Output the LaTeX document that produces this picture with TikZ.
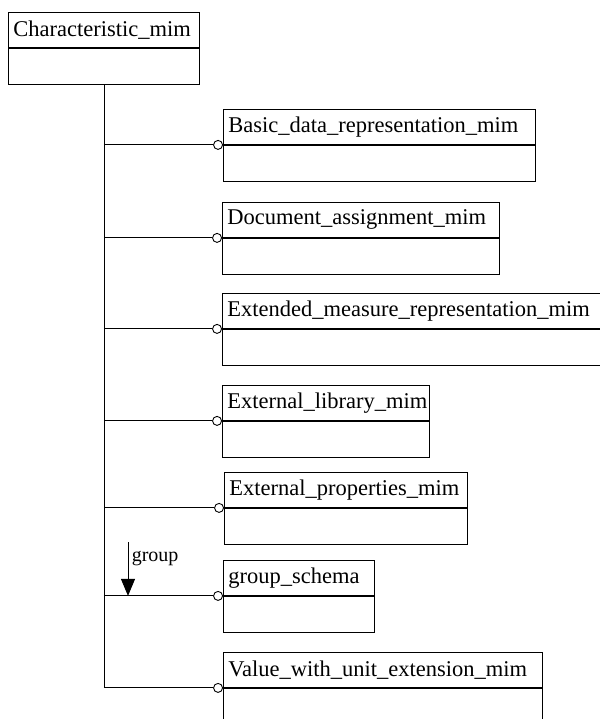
\documentclass[tikz,border=0pt]{standalone}
\usepackage{fontspec}
\setmainfont{Liberation Serif}
\usetikzlibrary{arrows.meta}
\tikzset{
  entity/.style  = {shape=rectangle, draw, anchor=north west,
                    inner xsep=5pt, inner ysep=0pt, minimum height=35pt,
                    text width=#1-10pt, align=left,
                    font=\fontsize{22.5}{26}\selectfont},
  compart/.style = {shape=rectangle, draw, anchor=north west,
                    inner sep=0pt, minimum width=#1, minimum height=36pt},
  ring/.style    = {shape=circle, draw, fill=white, anchor=east,
                    inner sep=0pt, minimum size=9pt},
}

\begin{document}
\begin{tikzpicture}
  [
    x          = 1pt,
    y          = -1pt,
    line width = 0.9pt,
    grouparrow/.style = {-{Triangle[length=17pt,width=14pt]}},
  ]
  \useasboundingbox (0,0) rectangle (599,719);
  % root schema
  \node [entity=191pt] (char) at (8,12) {Characteristic\_mim};
  \node [compart=191pt] (charb) at (char.south west) {};
  % used schemas
  \node [entity=312pt] (basic) at (223,109) {Basic\_data\_representation\_mim};
  \node [compart=312pt] (basicb) at (basic.south west) {};
  \node [entity=277pt] (docu) at (222,202) {Document\_assignment\_mim};
  \node [compart=277pt] (docub) at (docu.south west) {};
  \node [entity=400pt] (meas) at (222,293) {Extended\_measure\_representation\_mim};
  \node [compart=400pt] (measb) at (meas.south west) {};
  \node [entity=207pt] (lib) at (222,385) {External\_library\_mim};
  \node [compart=207pt] (libb) at (lib.south west) {};
  \node [entity=243pt] (prop) at (224,472) {External\_properties\_mim};
  \node [compart=243pt] (propb) at (prop.south west) {};
  \node [entity=151pt] (grp) at (223,560) {group\_schema};
  \node [compart=151pt] (grpb) at (grp.south west) {};
  \node [entity=319pt] (unit) at (223,652) {Value\_with\_unit\_extension\_mim};
  \node [compart=319pt] (unitb) at (unit.south west) {};
  % rings
  \node [ring] (basicr) at (basic.south west) {};
  \node [ring] (docur)  at (docu.south west) {};
  \node [ring] (measr)  at (meas.south west) {};
  \node [ring] (libr)   at (lib.south west) {};
  \node [ring] (propr)  at (prop.south west) {};
  \node [ring] (grpr)   at (grp.south west) {};
  \node [ring] (unitr)  at (unit.south west) {};
  % links
  \draw (charb.south) -- (charb.south |- unitr);
  \draw (charb.south |- basicr) -- (basicr);
  \draw (charb.south |- docur) -- (docur);
  \draw (charb.south |- measr) -- (measr);
  \draw (charb.south |- libr) -- (libr);
  \draw (charb.south |- propr) -- (propr);
  \draw (charb.south |- grpr) -- (grpr);
  \draw (charb.south |- unitr) -- (unitr);
  % group label
  \coordinate (grouptop) at (128,542);
  \draw [grouparrow] (grouptop) -- node [right, pos=0.3, font=\fontsize{20}{22}\selectfont] (grouplabel) {group} (grouptop |- grpr);
\end{tikzpicture}
\end{document}
